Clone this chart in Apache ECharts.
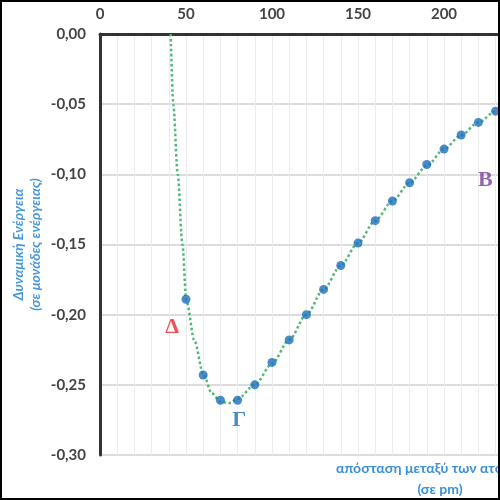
<!DOCTYPE html>
<html>
<head>
<meta charset="utf-8">
<script src="https://cdn.jsdelivr.net/npm/echarts@6/dist/echarts.min.js"></script>
<style>
  html, body { margin: 0; padding: 0; background: #fff; }
  #main { width: 500px; height: 500px; }
</style>
</head>
<body>
<div id="main"></div>
<script>
// measured points (distance in pm, energy)
var distances = [50, 60, 70, 80, 90, 100, 110, 120, 130, 140, 150, 160, 170, 180, 190, 200, 210, 220, 230];
var energies = [-0.189, -0.243, -0.261, -0.261, -0.250, -0.234, -0.218, -0.200, -0.182, -0.165, -0.149,
                -0.133, -0.119, -0.106, -0.093, -0.082, -0.072, -0.063, -0.055];

// dotted fitted curve
var curveX = [41.1, 42.6, 45.2, 47.9, 50.2, 55, 60, 65, 70, 75, 80, 90, 100, 110, 120, 130, 140, 150,
              160, 170, 180, 190, 200, 210, 220, 230, 240, 250];
var curveY = [0, -0.05, -0.10, -0.15, -0.190, -0.219, -0.242, -0.256, -0.262, -0.263, -0.260, -0.250,
              -0.235, -0.218, -0.200, -0.182, -0.165, -0.149, -0.133, -0.119, -0.106, -0.094, -0.082,
              -0.072, -0.063, -0.055, -0.048, -0.041];

// letters written on the chart
var noteText = ['Δ', 'Γ', 'B'];
var noteX = [42, 81, 224];
var noteY = [-0.209, -0.275, -0.104];
var noteColor = { 'Δ': '#e8262b', 'Γ': '#1f6fb2', 'B': '#7a3c9e' };

var xTicks = [0, 50, 100, 150, 200, 250];

var pts = distances.map(function (d, i) { return [d, energies[i]]; });
var curve = curveX.map(function (d, i) { return [d, curveY[i]]; });
var notes = noteText.map(function (t, i) {
    return {
        name: t,
        value: [noteX[i], noteY[i]],
        label: { color: noteColor[t] }
    };
});

var myChart = echarts.init(document.getElementById('main'));
var option = {
    animation: false,
    grid: { left: 100, top: 34, bottom: 45, width: 430, outerBoundsMode: 'none', containLabel: false },
    xAxis: {
        type: 'value',
        position: 'top',
        min: 0,
        max: 250,
        interval: 50,
        axisLine: { show: true, onZero: false, lineStyle: { color: '#333', width: 3 } },
        axisTick: { show: false },
        axisLabel: {
            margin: 12,
            fontFamily: 'Lato',
            fontWeight: 'bold',
            fontSize: 15,
            color: '#444',
            formatter: function (v) { return xTicks.indexOf(v) >= 0 ? String(v) : ''; }
        },
        splitLine: { show: true, lineStyle: { color: '#ececec', width: 1 } },
        minorTick: { show: false, splitNumber: 5 },
        minorSplitLine: { show: true, lineStyle: { color: '#ececec', width: 1 } }
    },
    yAxis: {
        type: 'value',
        min: -0.30,
        max: 0,
        interval: 0.05,
        name: 'Δυναμική Ενέργεια\n(σε μονάδες ενέργειας)',
        nameLocation: 'middle',
        nameRotate: 90,
        nameGap: 56,
        nameMoveOverlap: false,
        nameTextStyle: {
            fontFamily: 'Lato',
            fontStyle: 'italic',
            fontWeight: 'bold',
            fontSize: 14,
            lineHeight: 17,
            color: '#4a98d8'
        },
        axisLine: { show: true, onZero: false, lineStyle: { color: '#333', width: 3 } },
        axisTick: { show: false },
        axisLabel: {
            margin: 14,
            fontFamily: 'Lato',
            fontWeight: 'bold',
            fontSize: 15,
            color: '#444',
            formatter: function (v) { return v.toFixed(2).replace('.', ','); }
        },
        splitLine: { show: true, lineStyle: { color: '#dcdcdc', width: 2 } }
    },
    graphic: [
        {
            type: 'text',
            left: 336,
            top: 461,
            style: {
                text: 'απόσταση μεταξύ των ατόμων',
                fill: '#3d8fd6',
                font: 'bold 14px Lato'
            }
        },
        {
            type: 'text',
            x: 440,
            y: 482,
            style: {
                text: '(σε pm)',
                fill: '#3d8fd6',
                font: 'bold 14px Lato',
                textAlign: 'center'
            }
        },
        {
            type: 'rect',
            shape: { x: 1, y: 1, width: 498, height: 498 },
            style: { fill: 'none', stroke: '#000', lineWidth: 2 },
            z: 100
        }
    ],
    series: [
        {
            type: 'line',
            data: curve,
            smooth: 0.3,
            smoothMonotone: 'x',
            symbol: 'none',
            lineStyle: { color: '#52b878', width: 2.5, type: [2.5, 2.5] },
            z: 2
        },
        {
            type: 'scatter',
            data: pts,
            symbolSize: 9,
            itemStyle: { color: '#1b6fbb' },
            z: 3
        },
        {
            type: 'scatter',
            data: notes,
            symbolSize: 0,
            label: {
                show: true,
                position: 'inside',
                formatter: '{b}',
                fontFamily: 'Liberation Serif',
                fontWeight: 'bold',
                fontSize: 22
            },
            z: 4
        }
    ]
};
myChart.setOption(option);
</script>
</body>
</html>
